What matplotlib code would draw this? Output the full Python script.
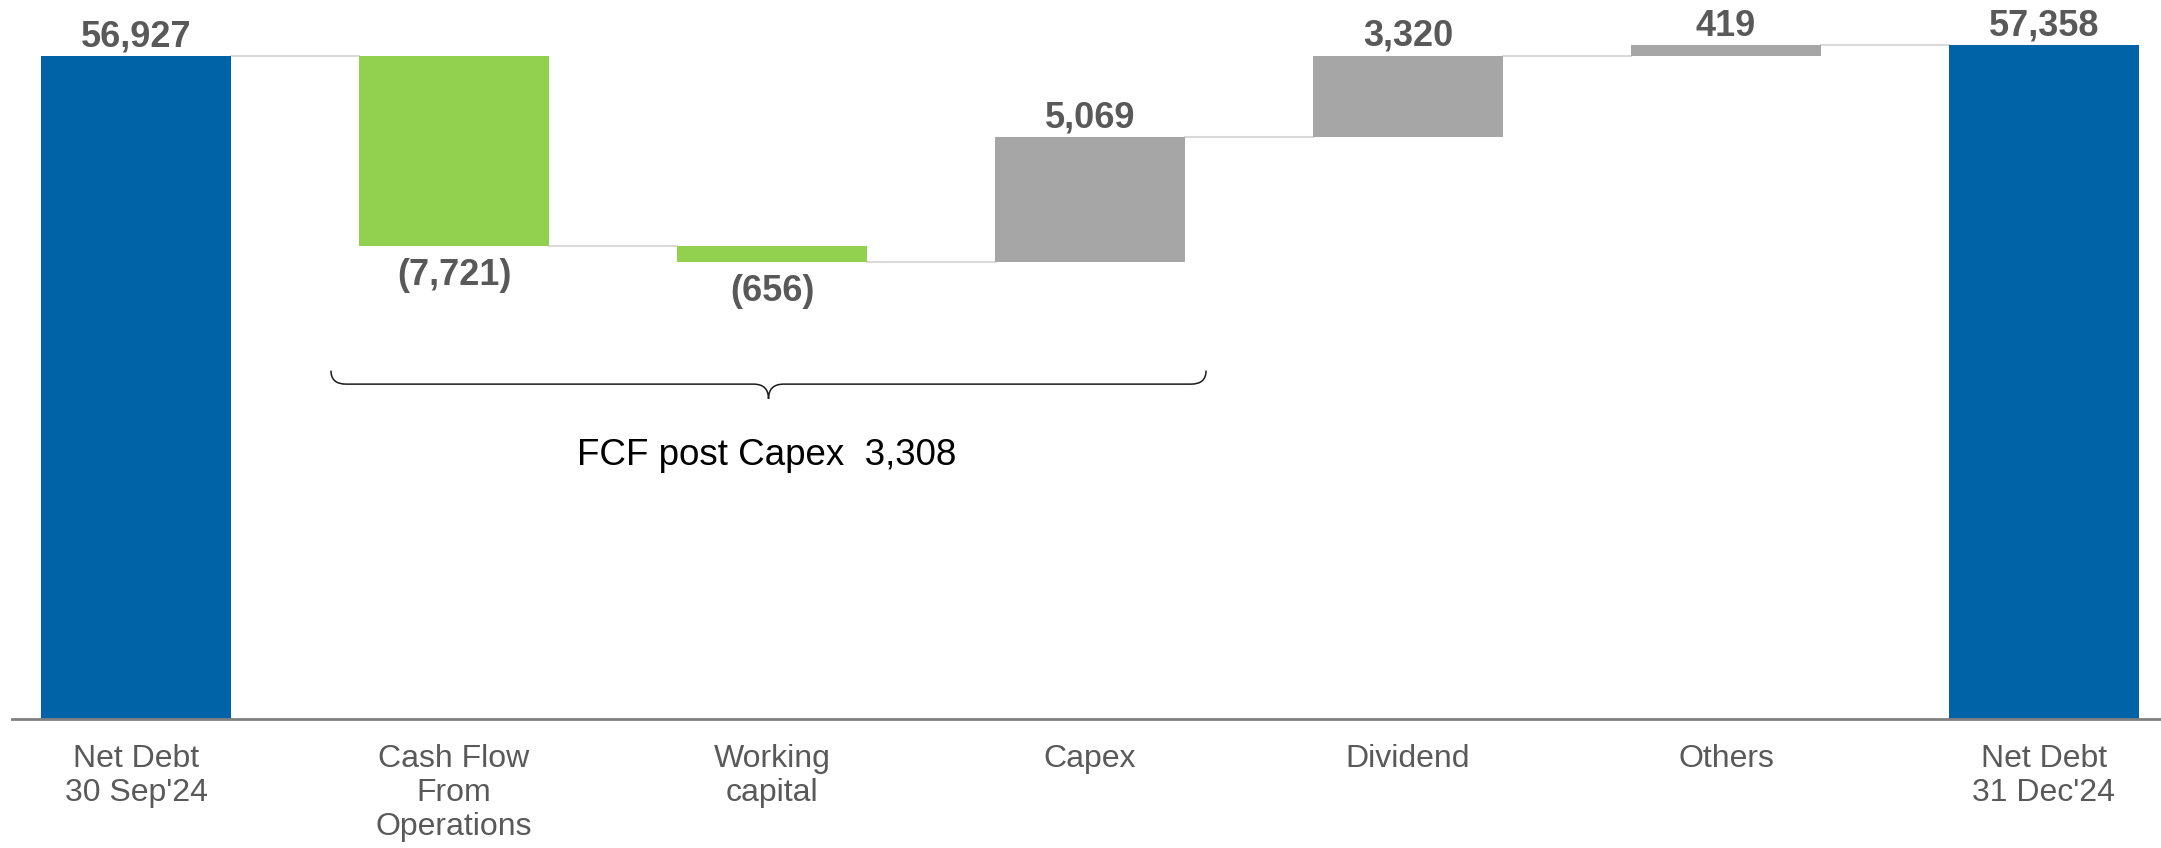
import matplotlib
matplotlib.use("Agg")
import matplotlib.pyplot as plt
from matplotlib.path import Path
from matplotlib.patches import PathPatch

plt.rcParams["font.family"] = ["Liberation Sans", "DejaVu Sans"]

# data
categories = ["Net Debt\n30 Sep'24", "Cash Flow\nFrom\nOperations", "Working\ncapital",
              "Capex", "Dividend", "Others", "Net Debt\n31 Dec'24"]
values = [56927, -7721, -656, 5069, 3320, 419, 57358]
is_total = [True, False, False, False, False, False, True]
bar_colors = ["#0062A7", "#92D050", "#92D050", "#A6A6A6", "#A6A6A6", "#A6A6A6", "#0062A7"]
fcf_label = "FCF post Capex  3,308"

label_color = "#595959"
width = 0.6

fig = plt.figure(figsize=(21.61, 8.48), dpi=100)
ax = fig.add_axes([12 / 2161, 129 / 848, 1 - 12 / 2161, 719 / 848])

# waterfall bars
running = 0
for i, v in enumerate(values):
    if is_total[i]:
        b, h = 0, v
        running = v
    else:
        b = running if v > 0 else running + v
        h = abs(v)
        running += v
    ax.bar(i, h, bottom=b, width=width, color=bar_colors[i], zorder=2)

    txt = f"{abs(v):,}" if v >= 0 else f"({abs(v):,})"
    if v >= 0:
        ax.annotate(txt, (i, b + h), xytext=(0, 7), textcoords="offset points",
                    ha="center", va="baseline", fontsize=26, fontweight="bold", color=label_color)
    else:
        ax.annotate(txt, (i, b), xytext=(0, -8.5), textcoords="offset points",
                    ha="center", va="top", fontsize=26, fontweight="bold", color=label_color)

# connector lines
level = 0
for i, v in enumerate(values[:-1]):
    level = v if is_total[i] else level + v
    ax.plot([i + width / 2, i + 1 - width / 2], [level, level], color="#D9D9D9", lw=1.5, zorder=1)

# curly brace under the FCF items
x0, x1 = 0.613, 3.365
xm = (x0 + x1) / 2
y_top, y_line, y_tip = 44150, 43600, 43000
dx = 0.047
verts = [(x0, y_top), (x0, y_line), (x0 + dx, y_line),
         (xm - dx, y_line), (xm, y_line), (xm, y_tip),
         (xm, y_line), (xm + dx, y_line),
         (x1 - dx, y_line), (x1, y_line), (x1, y_top)]
codes = [Path.MOVETO, Path.CURVE3, Path.CURVE3,
         Path.LINETO, Path.CURVE3, Path.CURVE3,
         Path.CURVE3, Path.CURVE3,
         Path.LINETO, Path.CURVE3, Path.CURVE3]
ax.add_patch(PathPatch(Path(verts, codes), fill=False, edgecolor="#1a1a1a", lw=1.1))
ax.text(xm - 0.005, 40330, fcf_label, ha="center", va="baseline", fontsize=26.5, color="black")

ax.set_xlim(-0.39, 6.368)
ax.set_ylim(30000, 59200)
ax.set_xticks(range(len(categories)))
ax.set_xticklabels(categories, fontsize=23, color=label_color, linespacing=1.17)
ax.tick_params(axis="x", length=0, pad=18)
ax.set_yticks([])
for s in ["top", "left", "right"]:
    ax.spines[s].set_visible(False)
ax.spines["bottom"].set_color("#808080")
ax.spines["bottom"].set_linewidth(2)
ax.spines["bottom"].set_zorder(3)

fig.savefig("out.png", dpi=100)
